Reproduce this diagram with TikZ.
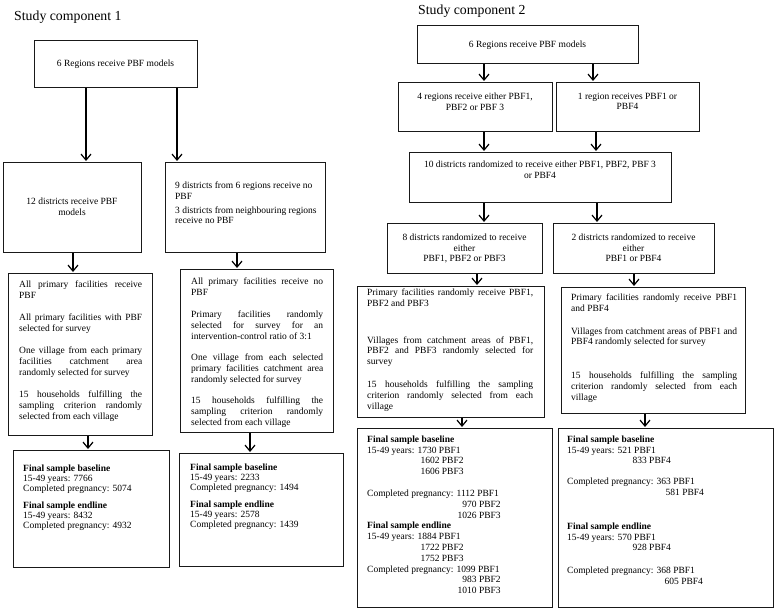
\documentclass[tikz,border=0pt]{standalone}
\usepackage{fontspec}
\setmainfont{Liberation Serif}
\usetikzlibrary{arrows.meta}
\newcommand\tf{\fontsize{9.5}{10.8}\selectfont}
\newcommand\tfs{\fontsize{9.5}{10}\selectfont}
\newcommand\jl[2]{\makebox[#1pt][s]{#2}}
\newcommand\mkbox[5]{\node[box, minimum width=#4-#2, minimum height=#5-#3] (#1) at (#2,#3) {};}
\begin{document}
\begin{tikzpicture}[x=1pt,y=-1pt,
  box/.style={draw=black!90, line width=1.2pt, inner sep=0pt, anchor=north west},
  txt/.style={inner sep=0pt, font=\tf},
  ctxt/.style={txt, anchor=north, align=center},
  ltxt/.style={txt, anchor=north west, align=left},
  ttl/.style={inner sep=0pt, anchor=base west, font=\fontsize{13.8}{16}\selectfont},
  arr/.style={line width=1.2pt, shorten >=1pt, -{Straight Barb[length=6pt,width=10pt]}}
]
\useasboundingbox (0,0) rectangle (778,615);

% titles
\node[ttl] (T1) at (14,21) {Study component 1};
\node[ttl] (T2) at (418,15) {Study component 2};

% boxes, component 1
\mkbox{A}{34}{40}{197}{87}
\mkbox{B}{3}{162}{141}{252}
\mkbox{C}{165}{162}{325}{252}
\mkbox{D}{8}{273}{152}{435}
\mkbox{E}{180}{269}{333}{432}
\mkbox{F}{13}{450}{169}{567}
\mkbox{G}{179}{453}{343}{566}
% boxes, component 2
\mkbox{H}{417}{25}{638}{63}
\mkbox{I}{398}{82}{552}{131}
\mkbox{J}{556}{82}{699}{131}
\mkbox{K}{409}{152}{671}{202}
\mkbox{L}{387}{223}{542}{273}
\mkbox{M}{553}{223}{714}{273}
\mkbox{N}{357}{286}{544}{417}
\mkbox{O}{561}{287}{745}{413}
\mkbox{P}{357}{428}{552}{607}
\mkbox{Q}{558}{428}{773}{607}

% texts, component 1
\node[ctxt] (At) at (115.5,59.6) {6 Regions receive PBF models};
\node[ctxt] (Bt) at (72,197.6) {12 districts receive PBF\\models};
\node[ltxt] (Ct) at (175,181.6) {9 districts from 6 regions receive no\\PBF\\[3pt]3 districts from neighbouring regions\\receive no PBF};
\node[ltxt] (Dt) at (19,280.6) {\jl{123}{All primary facilities receive}\\
PBF\\[11.5pt]
\jl{123}{All primary facilities with PBF}\\
selected for survey\\[11.5pt]
\jl{123}{One village from each primary}\\
\jl{123}{facilities catchment area}\\
randomly selected for survey\\[11.5pt]
\jl{123}{15 households fulfilling the}\\
\jl{123}{sampling criterion randomly}\\
selected from each village};
\node[ltxt] (Et) at (191,277.6) {\jl{132}{All primary facilities receive no}\\
PBF\\[11.5pt]
\jl{132}{Primary facilities randomly}\\
\jl{132}{selected for survey for an}\\
intervention-control ratio of 3:1\\[11pt]
\jl{132}{One village from each selected}\\
\jl{132}{primary facilities catchment area}\\
randomly selected for survey\\[10.5pt]
\jl{132}{15 households fulfilling the}\\
\jl{132}{sampling criterion randomly}\\
selected from each village};
\node[ltxt, font=\tfs] (Ft) at (23,464.6) {\textbf{Final sample baseline}\\15-49 years: 7766\\Completed pregnancy: 5074\\[7pt]\textbf{Final sample endline}\\15-49 years: 8432\\Completed pregnancy: 4932};
\node[ltxt, font=\tfs] (Gt) at (190,463.6) {\textbf{Final sample baseline}\\15-49 years: 2233\\Completed pregnancy: 1494\\[7pt]\textbf{Final sample endline}\\15-49 years: 2578\\Completed pregnancy: 1439};

% texts, component 2
\node[ctxt] (Ht) at (527.5,40.6) {6 Regions receive PBF models};
\node[ctxt] (It) at (475,92.6) {4 regions receive either PBF1,\\PBF2 or PBF 3};
\node[ctxt] (Jt) at (627.5,92.6) {1 region receives PBF1 or\\PBF4};
\node[ctxt] (Kt) at (540,160.6) {10 districts randomized to receive either PBF1, PBF2, PBF 3\\or PBF4};
\node[ctxt] (Lt) at (464.5,233.6) {8 districts randomized to receive\\either\\PBF1, PBF2 or PBF3};
\node[ctxt] (Mt) at (633.5,233.6) {2 districts randomized to receive\\either\\PBF1 or PBF4};
\node[ltxt] (Nt) at (367,288.6) {\jl{166}{Primary facilities randomly receive PBF1,}\\
PBF2 and PBF3\\[26pt]
\jl{166}{Villages from catchment areas of PBF1,}\\
\jl{166}{PBF2 and PBF3 randomly selected for}\\
survey\\[12pt]
\jl{166}{15 households fulfilling the sampling}\\
\jl{166}{criterion randomly selected from each}\\
village};
\node[ltxt] (Ot) at (571,293.6) {\jl{166}{Primary facilities randomly receive PBF1}\\
and PBF4\\[12pt]
\jl{166}{Villages from catchment areas of PBF1 and}\\
PBF4 randomly selected for survey\\[23pt]
\jl{166}{15 households fulfilling the sampling}\\
\jl{166}{criterion randomly selected from each}\\
village};
\node[ltxt] (Pt) at (367,435.6) {\textbf{Final sample baseline}\\
15-49 years: 1730 PBF1\\
\hphantom{15-49 years: }\hspace{3pt}1602 PBF2\\
\hphantom{15-49 years: }\hspace{3pt}1606 PBF3\\[11pt]
Completed pregnancy: 1112 PBF1\\
\hphantom{Completed pregnancy: 1}\hspace{1pt}970 PBF2\\
\hphantom{Completed pregnancy: }\hspace{1pt}1026 PBF3\\
\textbf{Final sample endline}\\
15-49 years: 1884 PBF1\\
\hphantom{15-49 years: }\hspace{3pt}1722 PBF2\\
\hphantom{15-49 years: }\hspace{3pt}1752 PBF3\\
Completed pregnancy: 1099 PBF1\\
\hphantom{Completed pregnancy: 1}\hspace{1pt}983 PBF2\\
\hphantom{Completed pregnancy: }\hspace{1pt}1010 PBF3};
\node[ltxt] (Qt) at (567,435.6) {\textbf{Final sample baseline}\\
15-49 years: 521 PBF1\\
\hphantom{15-49 years: }\hspace{15pt}833 PBF4\\[10pt]
Completed pregnancy: 363 PBF1\\
\hphantom{Completed pregnancy: }\hspace{9pt}581 PBF4\\[23pt]
\textbf{Final sample endline}\\
15-49 years: 570 PBF1\\
\hphantom{15-49 years: }\hspace{15pt}928 PBF4\\[12pt]
Completed pregnancy: 368 PBF1\\
\hphantom{Completed pregnancy: }\hspace{8pt}605 PBF4};

% arrow columns
\coordinate (a1) at (86,0);  \coordinate (a2) at (177,0);
\coordinate (a3) at (73,0);  \coordinate (a4) at (237,0);
\coordinate (a5) at (88,0);  \coordinate (a6) at (250,0);
\coordinate (b1) at (484,0); \coordinate (b2) at (593,0);
\coordinate (b3) at (596,0); \coordinate (b4) at (597,0);
\coordinate (b5) at (477,0); \coordinate (b6) at (634,0);
\coordinate (b7) at (462,0); \coordinate (b8) at (645,0);

\draw[arr] (A.south -| a1) -- (B.north -| a1);
\draw[arr] (A.south -| a2) -- (C.north -| a2);
\draw[arr] (B.south -| a3) -- (D.north -| a3);
\draw[arr] (C.south -| a4) -- (E.north -| a4);
\draw[arr] (D.south -| a5) -- (F.north -| a5);
\draw[arr] (E.south -| a6) -- (G.north -| a6);

\draw[arr] (H.south -| b1) -- (I.north -| b1);
\draw[arr] (H.south -| b2) -- (J.north -| b2);
\draw[arr] (I.south -| b1) -- (K.north -| b1);
\draw[arr] (J.south -| b3) -- (K.north -| b3);
\draw[arr] (K.south -| b1) -- (L.north -| b1);
\draw[arr] (K.south -| b4) -- (M.north -| b4);
\draw[arr] (L.south -| b5) -- (N.north -| b5);
\draw[arr] (M.south -| b6) -- (O.north -| b6);
\draw[arr] (N.south -| b7) -- (P.north -| b7);
\draw[arr] (O.south -| b8) -- (Q.north -| b8);
\end{tikzpicture}
\end{document}
